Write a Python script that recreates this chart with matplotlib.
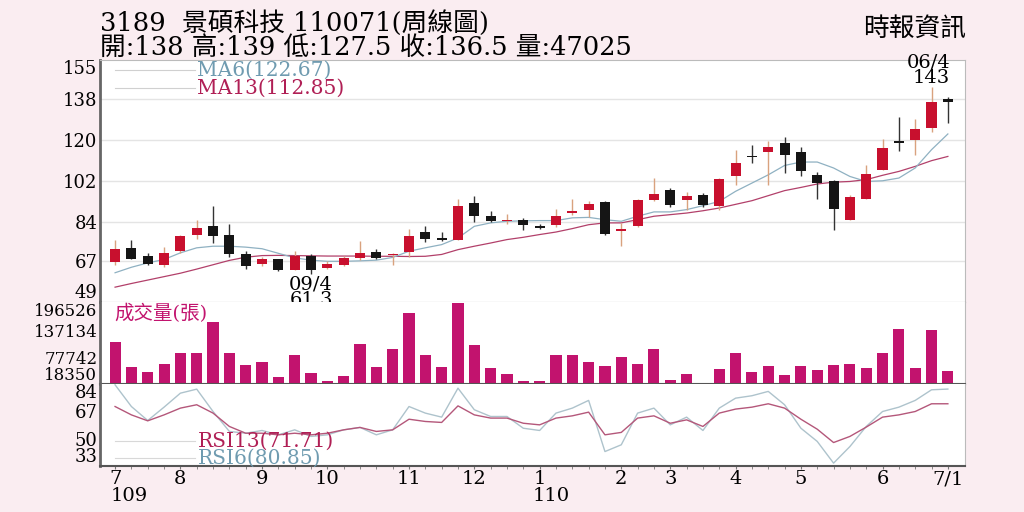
import matplotlib
matplotlib.use("Agg")
import matplotlib.pyplot as plt
import numpy as np

plt.rcParams['font.family'] = ['DejaVu Serif', 'Noto Sans CJK TC']

# weekly candles, 109/07 .. 110/07
opens = [66.5, 72.7, 69.5, 65.6, 71.4, 78.7, 82.3, 78.7, 70.0, 65.9, 67.8, 63.3, 69.3,
         64.0, 65.5, 68.5, 71.0, 69.6, 71.0, 79.7, 77.1, 76.5, 92.3, 86.8, 84.5, 85.2,
         82.4, 82.7, 88.0, 89.6, 92.8, 80.1, 82.3, 93.9, 98.2, 93.8, 96.0, 91.0, 104.1,
         112.5, 114.9, 118.8, 114.6, 104.8, 101.9, 85.2, 94.4, 106.7, 119.4, 120.1, 125.2, 138.0]
highs = [76.1, 76.1, 70.7, 73.3, 78.7, 85.1, 91.0, 83.3, 71.4, 68.8, 68.1, 71.4, 70.3,
         67.3, 69.5, 76.0, 72.4, 70.7, 81.3, 82.3, 79.7, 94.2, 95.4, 89.1, 87.8, 86.0,
         83.1, 89.9, 94.4, 93.5, 93.2, 83.8, 94.4, 103.4, 99.0, 97.1, 96.9, 103.4, 115.8,
         117.9, 119.4, 121.3, 116.8, 105.9, 102.7, 96.1, 109.2, 120.6, 130.0, 129.3, 143.0, 139.0]
lows = [65.6, 67.8, 65.6, 64.4, 70.7, 76.9, 74.9, 69.1, 63.8, 65.0, 62.7, 63.1, 61.3,
        63.6, 65.0, 67.5, 67.9, 65.6, 68.9, 75.5, 75.8, 76.1, 84.2, 84.2, 83.5, 80.9,
        81.3, 82.0, 87.4, 86.2, 78.7, 73.9, 81.9, 93.2, 90.6, 89.6, 90.9, 89.6, 100.2,
        109.8, 100.2, 105.6, 104.1, 94.4, 80.9, 85.2, 94.4, 106.7, 115.3, 113.3, 123.5, 127.5]
closes = [72.3, 68.1, 65.9, 70.5, 78.0, 81.6, 78.2, 70.0, 64.9, 67.8, 63.4, 69.2, 63.2,
          66.0, 68.4, 70.7, 68.5, 69.8, 78.0, 76.8, 76.2, 91.3, 86.7, 84.5, 85.2, 82.7,
          81.7, 87.0, 89.0, 92.1, 79.1, 81.1, 93.7, 96.6, 91.8, 95.7, 91.5, 103.0, 109.8,
          112.4, 117.1, 113.6, 106.3, 101.2, 90.0, 95.0, 105.1, 116.5, 118.7, 124.8, 136.8, 136.5]

ma6 = [62.0, 64.4, 66.3, 67.8, 70.7, 72.9, 73.6, 73.6, 73.2, 72.5, 70.5, 68.5, 67.5,
       67.0, 67.0, 67.2, 67.5, 68.7, 71.4, 72.9, 74.3, 77.2, 82.3, 83.8, 84.5, 84.7,
       84.8, 84.8, 86.0, 86.2, 85.2, 84.5, 86.7, 88.6, 88.6, 89.6, 91.3, 93.2, 97.6,
       101.2, 104.8, 108.9, 110.4, 110.4, 107.8, 104.1, 101.9, 102.2, 103.4, 107.8, 115.8, 122.67]
ma13 = [55.7, 57.3, 58.8, 60.3, 61.8, 63.6, 65.5, 67.4, 68.8, 69.5, 69.6, 69.5, 69.4,
        69.3, 69.3, 69.3, 69.2, 69.2, 69.1, 69.2, 70.0, 72.1, 73.6, 75.0, 76.5, 77.5,
        78.7, 79.8, 81.3, 83.0, 83.8, 83.8, 85.2, 86.7, 87.4, 88.1, 89.1, 90.3, 91.9,
        93.5, 95.7, 97.9, 99.3, 100.8, 101.6, 101.9, 102.7, 104.6, 106.3, 108.5, 111.0, 112.85]

volumes = [111700, 56550, 44850, 63170, 86800, 86800, 155900, 86140, 60960, 67590, 34470,
           83040, 41980, 24310, 36010, 106000, 55220, 94970, 174460, 81720, 55220, 196526,
           103800, 53020, 41090, 25640, 24310, 82380, 82380, 66930, 58090, 78630, 63170,
           96290, 27840, 39770, 19500, 51470, 86800, 44180, 57430, 38880, 58760, 49260,
           60960, 63170, 53680, 86800, 139130, 54340, 136920, 47025]

rsi6 = [83.5, 70.0, 61.3, 69.6, 78.3, 80.8, 66.9, 54.5, 53.4, 55.1, 52.4, 55.5, 51.4,
        52.4, 55.5, 57.0, 52.4, 55.5, 70.0, 65.9, 63.4, 81.4, 68.0, 63.8, 63.8, 56.5,
        55.1, 65.9, 69.0, 73.8, 42.0, 46.2, 65.9, 69.0, 58.6, 63.4, 55.1, 69.0, 75.2,
        76.7, 79.4, 71.1, 56.5, 48.3, 34.8, 45.1, 57.6, 66.9, 69.6, 73.8, 80.4, 80.85]
rsi13 = [70.0, 64.8, 61.1, 64.8, 69.0, 71.1, 65.9, 57.6, 53.4, 53.4, 52.4, 53.4, 52.4,
         53.4, 55.5, 57.0, 54.5, 55.5, 62.1, 60.7, 60.1, 70.4, 64.8, 62.8, 62.8, 59.6,
         58.6, 62.8, 64.2, 66.5, 52.4, 53.9, 62.8, 64.2, 59.6, 61.7, 57.6, 65.9, 68.4,
         69.6, 71.7, 69.0, 62.1, 55.9, 47.6, 51.4, 57.2, 63.4, 64.8, 66.9, 71.7, 71.71]

month_labels = ['7', '8', '9', '10', '11', '12', '1', '2', '3', '4', '5', '6', '7/1']
month_weeks = [0, 4, 9, 13, 18, 22, 26, 31, 34, 38, 42, 47, 51]
price_ticks = [49, 67, 84, 102, 120, 138, 155]
vol_ticks = [18350, 77742, 137134, 196526]
rsi_ticks = [33, 50, 67, 84]

BG = '#faedf1'
RED = '#c8102e'
BLACK = '#151515'
MAG = '#c2136e'
MA6_C = '#8fb1c2'
MA13_C = '#b2406a'

x = np.arange(len(closes))
o = np.array(opens); c = np.array(closes)
h = np.array(highs); l = np.array(lows)
up = c >= o

fig = plt.figure(figsize=(10.24, 5.12), dpi=100, facecolor=BG)
L, W = 0.0977, 0.8447
ax_p = fig.add_axes([L, 0.4092, W, 0.4736])
ax_v = fig.add_axes([L, 0.2500, W, 0.1592], sharex=ax_p)
ax_r = fig.add_axes([L, 0.0898, W, 0.1602], sharex=ax_p)

for ax in (ax_p, ax_v, ax_r):
    ax.set_facecolor('white')
    ax.spines['left'].set_color('#666666')
    ax.spines['left'].set_linewidth(2)
    ax.spines['right'].set_color('#bbbbbb')
    ax.spines['top'].set_color('#bbbbbb')
    ax.tick_params(axis='y', length=0, pad=2, labelsize=13)
    ax.tick_params(axis='x', length=0)

ax_p.set_xlim(-0.92, 52.05)

# price panel
ax_p.set_ylim(49, 155)
for p in price_ticks[1:-1]:
    ax_p.axhline(p, color='#e4e4e4', lw=1, zorder=0)
ax_p.plot(x, ma13, color=MA13_C, lw=0.9, zorder=1)
ax_p.plot(x, ma6, color=MA6_C, lw=0.9, zorder=1)
wick_cols = np.where(up, '#d9a27e', '#333333')
ax_p.vlines(x, l, h, colors=wick_cols, lw=1, zorder=2)
body_h = np.maximum(np.abs(c - o), 0.6)
ax_p.bar(x, body_h, bottom=np.minimum(o, c), width=0.62,
         color=np.where(up, RED, BLACK), zorder=3)
ax_p.set_yticks(price_ticks)
ax_p.set_yticklabels([str(t) for t in price_ticks])
ax_p.get_yticklabels()[-1].set_va('top')
ax_p.get_yticklabels()[0].set_va('bottom')
ax_p.spines['bottom'].set_color('#888888')
plt.setp(ax_p.get_xticklabels(), visible=False)

ax_p.plot([0.017, 0.11], [0.9596, 0.9596], transform=ax_p.transAxes, color='#d0d0d0', lw=0.8)
ax_p.plot([0.017, 0.11], [0.8853, 0.8853], transform=ax_p.transAxes, color='#d0d0d0', lw=0.8)
ax_p.text(0.112, 0.9596, 'MA6(122.67)', transform=ax_p.transAxes, color='#6f9bb0',
          fontsize=14.5, va='center')
ax_p.text(0.112, 0.8853, 'MA13(112.85)', transform=ax_p.transAxes, color='#b01f55',
          fontsize=14.5, va='center')

lo_i = int(np.argmin(l))
ax_p.annotate('09/4', (lo_i, l[lo_i]), xytext=(0, -10), textcoords='offset pixels',
              ha='center', va='center', fontsize=14)
ax_p.annotate('61.3', (lo_i, l[lo_i]), xytext=(0, -26), textcoords='offset pixels',
              ha='center', va='center', fontsize=14)
hi_i = int(np.argmax(h))
ax_p.annotate('06/4', (hi_i, h[hi_i]), xytext=(-3, 25), textcoords='offset pixels',
              ha='center', va='center', fontsize=14)
ax_p.annotate('143', (hi_i, h[hi_i]), xytext=(0, 9), textcoords='offset pixels',
              ha='center', va='center', fontsize=14)

# volume panel
ax_v.set_ylim(18350, 198000)
ax_v.bar(x, volumes, width=0.68, color=MAG, zorder=2)
ax_v.set_yticks(vol_ticks)
ax_v.set_yticklabels([str(t) for t in vol_ticks])
ax_v.tick_params(axis='y', labelsize=12)
ax_v.get_yticklabels()[-1].set_va('top')
ax_v.get_yticklabels()[0].set_va('bottom')
ax_v.spines['top'].set_visible(False)
ax_v.spines['bottom'].set_color('#555555')
ax_v.spines['bottom'].set_linewidth(1.5)
plt.setp(ax_v.get_xticklabels(), visible=False)
ax_v.text(0.017, 0.87, '成交量(張)', transform=ax_v.transAxes, color=MAG,
          fontsize=14, va='center')

# rsi panel
ax_r.set_ylim(33, 84)
ax_r.plot(x, rsi6, color='#aec3cc', lw=1)
ax_r.plot(x, rsi13, color='#b4577a', lw=1)
ax_r.set_yticks(rsi_ticks)
ax_r.set_yticklabels([str(t) for t in rsi_ticks])
ax_r.get_yticklabels()[-1].set_va('top')
ax_r.get_yticklabels()[0].set_va('bottom')
ax_r.spines['top'].set_visible(False)
ax_r.spines['bottom'].set_color('#555555')
ax_r.spines['bottom'].set_linewidth(1.5)
ax_r.plot([0.017, 0.11], [0.305, 0.305], transform=ax_r.transAxes, color='#d8d8d8', lw=0.8)
ax_r.plot([0.017, 0.11], [0.098, 0.098], transform=ax_r.transAxes, color='#d8d8d8', lw=0.8)
ax_r.text(0.113, 0.305, 'RSI13(71.71)', transform=ax_r.transAxes, color='#b01f55',
          fontsize=14.5, va='center')
ax_r.text(0.113, 0.098, 'RSI6(80.85)', transform=ax_r.transAxes, color='#6f9bb0',
          fontsize=14.5, va='center')

ax_r.set_xticks(month_weeks)
ax_r.set_xticklabels(month_labels, fontsize=14)
ax_r.set_xticks(x, minor=True)
ax_r.tick_params(axis='x', which='minor', length=2, color='#777777', direction='out')
ax_r.tick_params(axis='x', which='major', length=2, color='#777777', pad=1)
ax_r.text(-0.3, -0.37, '109', transform=ax_r.get_xaxis_transform(), fontsize=14,
          ha='left', va='center')
ax_r.text(25.6, -0.37, '110', transform=ax_r.get_xaxis_transform(), fontsize=14,
          ha='left', va='center')

# header
fig.text(0.098, 0.955, '3189  景碩科技 110071(周線圖)', fontsize=18.5, va='center')
fig.text(0.098, 0.908, '開:138 高:139 低:127.5 收:136.5 量:47025', fontsize=18.5, va='center')
fig.text(0.943, 0.945, '時報資訊', fontsize=18.5, va='center', ha='right')

fig.savefig('out.png', dpi=100, facecolor=BG)
